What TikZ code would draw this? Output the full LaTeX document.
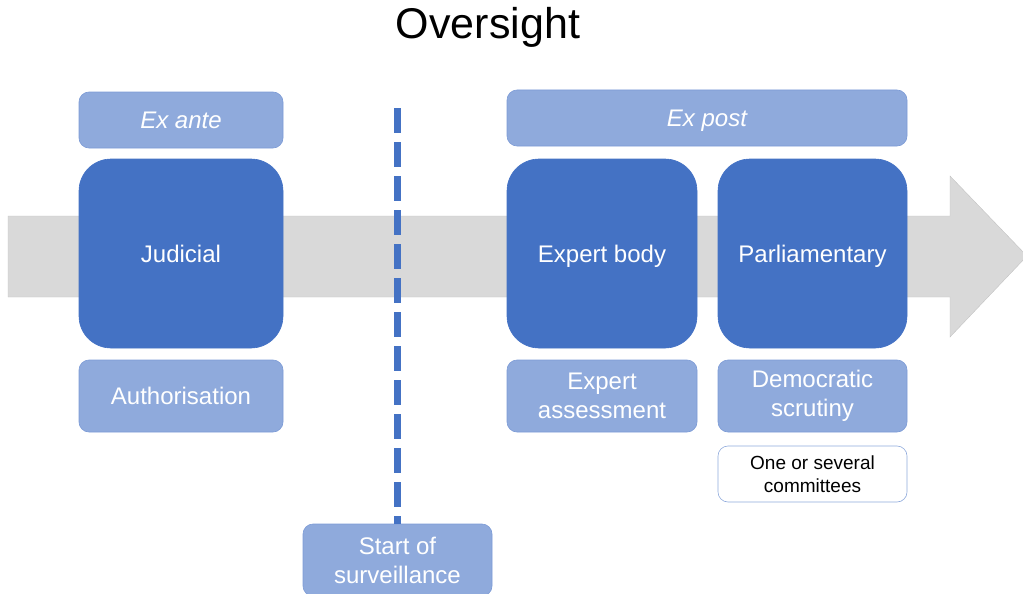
\documentclass[tikz,border=0pt]{standalone}
\usepackage{fontspec}
\setmainfont{Liberation Sans}
\usepackage{tikz}
\usetikzlibrary{shapes,arrows,positioning}

\definecolor{DarkBlue}{HTML}{4472C4}
\definecolor{LightBlue}{HTML}{8FAADC}
\definecolor{EdgeBlue}{HTML}{7C9BD6}
\definecolor{ArrowGray}{HTML}{D9D9D9}

\begin{document}
\begin{tikzpicture}[x=1pt,y=-1pt]
				\tikzstyle{Box}		= [rectangle, inner sep=0pt, align=center, text=white, font=\fontsize{24}{29}\selectfont]
				\tikzstyle{Main}	= [Box, rounded corners=32pt, fill=DarkBlue, draw=DarkBlue, line width=0.6pt, minimum height=189pt, text depth=0pt]
				\tikzstyle{Note}	= [Box, rounded corners=10pt, fill=LightBlue, draw=EdgeBlue, line width=0.6pt, minimum height=72pt]
				\tikzstyle{Phase}	= [Note, minimum height=56pt, text depth=0pt, font=\fontsize{24}{29}\selectfont\itshape]
				\tikzstyle{Small}	= [Box, rounded corners=10pt, fill=white, draw=LightBlue, line width=0.6pt, text=black, minimum height=56pt, font=\fontsize{19}{23}\selectfont]
				\tikzstyle{Cut}		= [DarkBlue, line width=7pt, dash pattern=on 25pt off 9pt]

				\useasboundingbox (0,0) rectangle (1023,594);

				% time arrow in the background
				\fill [ArrowGray, draw=ArrowGray!90!black, line width=0.4pt] (8,216) -- (950,216) -- (950,176) -- (1027,256) -- (950,337) -- (950,297) -- (8,297) -- cycle;

				\node (title) at (488,27) {\fontsize{43}{50}\selectfont Oversight};

				\node (exante) at (181,120) [Phase][minimum width=204pt] {Ex ante};
				\node (judicial) at (181,253.5) [Main][minimum width=204pt] {Judicial};
				\node (auth) at (181,396) [Note][minimum width=204pt] {Authorisation};

				\node (expost) at (707,118) [Phase][minimum width=400pt] {Ex post};
				\node (expert) at (602,253.5) [Main][minimum width=190pt] {Expert body};
				\node (parl) at (812.5,253.5) [Main][minimum width=189pt] {Parliamentary};
				\node (assess) at (602,396) [Note][minimum width=190pt] {Expert\\assessment};
				\node (scrutiny) at (812.5,396) [Note][minimum width=189pt] {Democratic\\scrutiny};
				\node (committees) at (812.5,474) [Small][minimum width=189pt] {One or several\\committees};

				\node (start) at (397.5,560) [Note][minimum width=189pt] {Start of\\surveillance};
				\coordinate (cut) at (397.5,108);

				\draw [Cut] (cut) to (start.north);
\end{tikzpicture}
\end{document}
